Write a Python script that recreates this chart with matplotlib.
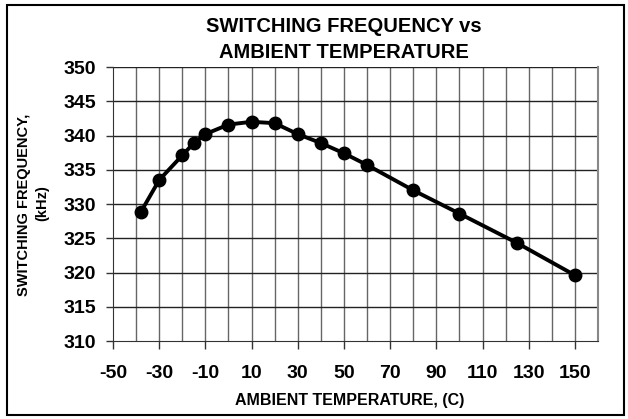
import matplotlib.pyplot as plt
from matplotlib.patches import Rectangle
from matplotlib.ticker import MultipleLocator
import numpy as np

plt.rcParams['font.family'] = ['Liberation Sans', 'DejaVu Sans']
plt.rcParams['font.weight'] = 'bold'
plt.rcParams['axes.unicode_minus'] = False

# data
temperatura = [-38, -30, -20, -15, -10, 0, 10, 20, 30, 40, 50, 60, 80, 100, 125, 150]
frequencia = [328.8, 333.5, 337.1, 338.9, 340.2, 341.6, 342.0, 341.8, 340.2, 338.9,
              337.4, 335.7, 332.0, 328.6, 324.3, 319.6]
rotulos_x = np.arange(-50, 151, 20)
rotulos_y = np.arange(310, 351, 5)

W, H = 628, 419
fig = plt.figure(figsize=(W / 100, H / 100), dpi=100)
ax = fig.add_axes([113 / W, 1 - 341 / H, 485 / W, 274 / H])

# moldura externa
fig.patches.append(Rectangle((7 / W, 1 - 415 / H), 617 / W, 410 / H, transform=fig.transFigure,
                             fill=False, edgecolor='black', linewidth=1.5))

ax.plot(temperatura, frequencia, color='black', linewidth=2.8, marker='o', markersize=9, zorder=3)

ax.set_xlim(-50, 160)
ax.set_ylim(310, 350)
ax.set_xticks(rotulos_x)
ax.xaxis.set_minor_locator(MultipleLocator(10))
ax.set_yticks(rotulos_y)
ax.tick_params(axis='both', labelsize=14, width=1, color='#333333')
ax.tick_params(axis='x', which='major', direction='out', length=6, pad=11)
ax.tick_params(axis='x', which='minor', length=0)
ax.tick_params(axis='y', direction='out', length=5, pad=7)

# grade
for x in range(-40, 160, 10):
    ax.axvline(x, color='#666666', linewidth=1, zorder=1)
for y in rotulos_y[1:]:
    ax.axhline(y, color='#222222', linewidth=1, zorder=1)

ax.spines['top'].set_visible(False)
ax.spines['right'].set_color('#888888')
ax.spines['right'].set_linewidth(1.5)
ax.spines['left'].set_color('#333333')
ax.spines['bottom'].set_color('#333333')

fig.text(344 / W, 1 - 26 / H, 'SWITCHING FREQUENCY vs', ha='center', va='center', fontsize=14.5, fontweight='bold')
fig.text(344 / W, 1 - 52 / H, 'AMBIENT TEMPERATURE', ha='center', va='center', fontsize=14.5, fontweight='bold')
fig.text(350 / W, 1 - 400 / H, 'AMBIENT TEMPERATURE, (C)', ha='center', va='center', fontsize=11.5, fontweight='bold')
fig.text(24 / W, 1 - 205 / H, 'SWITCHING FREQUENCY,', rotation=90, ha='center', va='center', fontsize=10.5, fontweight='bold')
fig.text(42 / W, 1 - 203 / H, '(kHz)', rotation=90, ha='center', va='center', fontsize=10.5, fontweight='bold')

fig.savefig('out.png', dpi=100)
